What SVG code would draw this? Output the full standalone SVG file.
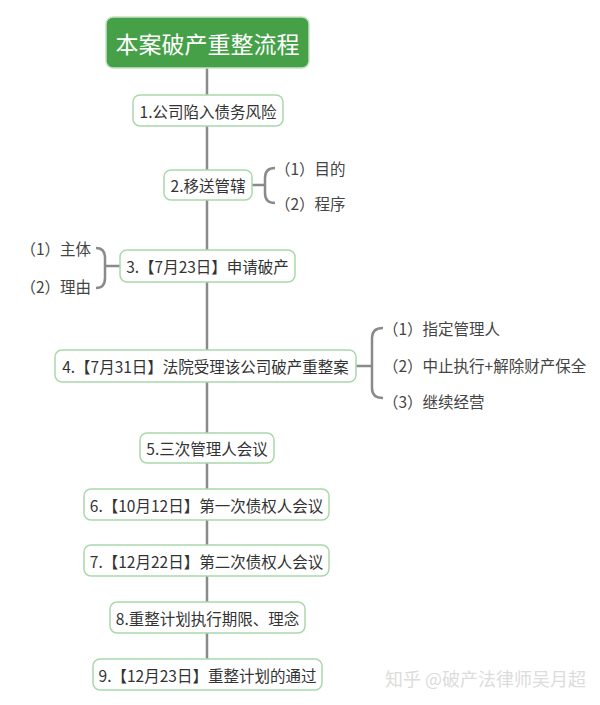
<svg xmlns="http://www.w3.org/2000/svg" width="600" height="705" viewBox="0 0 600 705">
<style>
.node rect{fill:#fff;stroke:#a9d8aa;stroke-width:1.5}
.node text{font-family:"Noto Sans CJK SC","Noto Sans",sans-serif;font-size:15.5px;fill:#333;text-anchor:middle;dominant-baseline:central}
.sub{font-family:"Noto Sans CJK SC","Noto Sans",sans-serif;font-size:15.5px;fill:#444;dominant-baseline:central}
.conn{fill:none;stroke:#8a8a8a;stroke-width:2.5}
.wm{font-family:"Noto Sans CJK SC",sans-serif;font-size:18px;fill:#dcdcdc}
</style>
<rect width="600" height="705" fill="#fff"/>
<g id="connectors" class="conn">
<line x1="207" y1="68" x2="207" y2="659"/>
<path d="M252 185 H265 M275 168 Q265 168 265 178 V193 Q265 203 275 203"/>
<path d="M120 266 H105 M96 248 Q105 248 105 258 V278 Q105 288 96 288"/>
<path d="M356 366 H372 M383 328 Q372 328 372 338 V388 Q372 398 383 398"/>
</g>
<g id="title">
<rect x="106" y="17" width="203" height="51" rx="7" fill="#45a048" stroke="#c6e3c5" stroke-width="1.5"/>
<text x="207.5" y="43" font-family="Noto Sans CJK SC,sans-serif" font-size="23" fill="#fff" text-anchor="middle" dominant-baseline="central">本案破产重整流程</text>
</g>
<g id="n1" class="node"><rect x="133" y="95" width="150" height="31" rx="7"/><text x="208" y="110.5">1.公司陷入债务风险</text></g>
<g id="n2" class="node"><rect x="164" y="170" width="88" height="30" rx="7"/><text x="208" y="185">2.移送管辖</text></g>
<g id="n2a"><text class="sub" x="275" y="168">（1）目的</text></g>
<g id="n2b"><text class="sub" x="275" y="203">（2）程序</text></g>
<g id="n3" class="node"><rect x="120" y="250" width="175" height="32" rx="7"/><text x="207.5" y="266">3.【7月23日】申请破产</text></g>
<g id="n3a"><text class="sub" x="91" y="248" text-anchor="end">（1）主体</text></g>
<g id="n3b"><text class="sub" x="91" y="286" text-anchor="end">（2）理由</text></g>
<g id="n4" class="node"><rect x="55" y="350" width="301" height="32" rx="7"/><text x="205.5" y="366">4.【7月31日】法院受理该公司破产重整案</text></g>
<g id="n4a"><text class="sub" x="383" y="328">（1）指定管理人</text></g>
<g id="n4b"><text class="sub" x="383" y="365">（2）中止执行+解除财产保全</text></g>
<g id="n4c"><text class="sub" x="383" y="401">（3）继续经营</text></g>
<g id="n5" class="node"><rect x="140" y="433" width="134" height="30" rx="7"/><text x="207" y="448">5.三次管理人会议</text></g>
<g id="n6" class="node"><rect x="84" y="489" width="245" height="31" rx="7"/><text x="206.5" y="504.5">6.【10月12日】第一次债权人会议</text></g>
<g id="n7" class="node"><rect x="84" y="545" width="245" height="31" rx="7"/><text x="206.5" y="560.5">7.【12月22日】第二次债权人会议</text></g>
<g id="n8" class="node"><rect x="110" y="602" width="195" height="31" rx="7"/><text x="207.5" y="617.5">8.重整计划执行期限、理念</text></g>
<g id="n9" class="node"><rect x="93" y="659" width="229" height="31" rx="7"/><text x="207.5" y="674.5">9.【12月23日】重整计划的通过</text></g>
<text class="wm" x="385" y="686">知乎 @破产法律师吴月超</text>
</svg>
